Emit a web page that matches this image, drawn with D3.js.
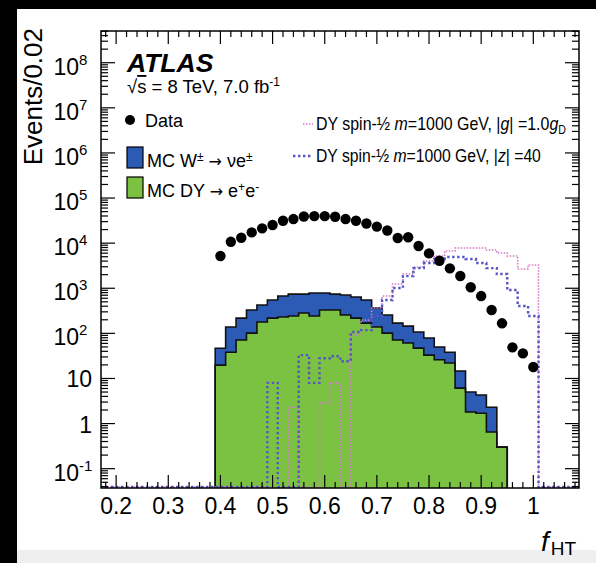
<!DOCTYPE html>
<html><head><meta charset="utf-8">
<script src="https://cdn.jsdelivr.net/npm/d3@7"></script>
<style>body{margin:0;background:#fff}svg{display:block}text{font-family:"Liberation Sans",Arial,Helvetica,sans-serif}</style>
</head><body><svg id="c" width="596" height="563"></svg>
<script>
// ---------------- data ----------------
const dataX = [0.40,0.42,0.44,0.46,0.48,0.50,0.52,0.54,0.56,0.58,0.60,0.62,0.64,0.66,0.68,0.70,0.72,0.74,0.76,0.78,0.80,0.82,0.84,0.86,0.88,0.90,0.92,0.94,0.96,0.98,1.00];
const dataY = [5180,10700,13200,17300,21300,25200,31400,34200,38900,39800,39800,38500,34200,31400,27200,23300,19100,13000,13500,8630,5940,4070,2760,1870,1050,671,329,167,49,36,18];

const mcBinLow = [0.39,0.41,0.43,0.45,0.47,0.49,0.51,0.53,0.55,0.57,0.59,0.61,0.63,0.65,0.67,0.69,0.71,0.73,0.75,0.77,0.79,0.81,0.83,0.85,0.87,0.89,0.91,0.93];
const mcDY = [19.8,38,71,101,178,218,230,242,282,242,329,329,255,218,169,138,101,71,61,47,33,26,22,6.1,1.8,1.7,0.65,0.30];
const mcW  = [27,100,147,228,247,329,441,501,461,541,454,414,453,420,378,226,154,98,84,60,46,24,16,8.5,3.2,2.6,1.65,0];

const sigBinLow = [0.39,0.41,0.43,0.45,0.47,0.49,0.51,0.53,0.55,0.57,0.59,0.61,0.63,0.65,0.67,0.69,0.71,0.73,0.75,0.77,0.79,0.81,0.83,0.85,0.87,0.89,0.91,0.93,0.95,0.97,0.99];
const sigG = [0,0,0,0,0,0,0,2.3,0,0,2.85,7.9,0,92,197,364,671,1240,2070,2950,4010,5180,6680,7790,7790,7790,7030,6030,5180,2670,3270];
const sigZ = [0,0,0,0,0,8,0,0,33,8,28,31,24,107,118,242,547,1010,1860,2800,3620,4440,4920,4920,4440,3620,2800,2070,912,403,242];
const binWidth = 0.02;

const xTickValues = [0.2,0.3,0.4,0.5,0.6,0.7,0.8,0.9,1.0];
const xTickLabels = ["0.2","0.3","0.4","0.5","0.6","0.7","0.8","0.9","1"];
const yTickValues = [0.1,1,10,1e2,1e3,1e4,1e5,1e6,1e7,1e8];
const yTickBase = ["10","1","10","10","10","10","10","10","10","10"];
const yTickExp  = ["-1","","","2","3","4","5","6","7","8"];

// ---------------- layout ----------------
const svg = d3.select("#c");
const L=101,R=579,T=31,B=488;
const x = d3.scaleLinear().domain([0.171,1.0876]).range([L,R]);
const y = d3.scaleLog().domain([0.0373,5.05e8]).range([B,T]);
const yv = v => v>0 ? Math.min(B, y(v)) : B+2;

const GREEN="#7cc242", BLUE="#2c5bb5", PINK="#d27ac8", PURP="#5556c4";

svg.append("rect").attr("width",596).attr("height",563).attr("fill","#fff");
svg.append("rect").attr("x",0).attr("y",550).attr("width",596).attr("height",13).attr("fill","#efefef");
svg.append("rect").attr("x",0).attr("y",0).attr("width",17).attr("height",563).attr("fill","#000");
svg.append("rect").attr("x",0).attr("y",0).attr("width",596).attr("height",9).attr("fill","#000");

svg.append("clipPath").attr("id","pc").append("rect").attr("x",L).attr("y",T).attr("width",R-L).attr("height",B-T);
const g = svg.append("g").attr("clip-path","url(#pc)");

function stepPts(lows, vals){
  const pts=[[x(lows[0]),B+2]];
  lows.forEach((lo,i)=>{ const yy=yv(vals[i]); pts.push([x(lo),yy]); pts.push([x(lo+binWidth),yy]); });
  pts.push([x(lows[lows.length-1]+binWidth),B+2]);
  return pts;
}
const line = d3.line();
const total = mcDY.map((d,i)=>d+mcW[i]);
const totPts = stepPts(mcBinLow,total), dyPts = stepPts(mcBinLow,mcDY);
g.append("path").attr("d",line(totPts)+"Z").attr("fill",BLUE);
g.append("path").attr("d",line(dyPts)+"Z").attr("fill",GREEN);
g.append("path").attr("d",line(dyPts)).attr("fill","none").attr("stroke","#111").attr("stroke-width",1.6);
g.append("path").attr("d",line(totPts)).attr("fill","none").attr("stroke","#111").attr("stroke-width",1.6);

// signal histograms
g.append("path").attr("d",line([[L,B-1],...stepPts(sigBinLow,sigG).map(p=>[p[0],Math.min(p[1],B-1)]),[R,B-1]]))
  .attr("fill","none").attr("stroke",PINK).attr("stroke-width",1.6).attr("stroke-dasharray","1.5,1.5");
g.append("path").attr("d",line([[L,B-1],...stepPts(sigBinLow,sigZ).map(p=>[p[0],Math.min(p[1],B-1)]),[R,B-1]]))
  .attr("fill","none").attr("stroke",PURP).attr("stroke-width",2.4).attr("stroke-dasharray","2.4,2.6");

// data points
g.selectAll("circle.d").data(dataX).enter().append("circle")
  .attr("cx",d=>x(d)).attr("cy",(d,i)=>y(dataY[i])).attr("r",5.2).attr("fill","#000");

// frame and ticks
const ax = svg.append("g").attr("stroke","#000").attr("stroke-width",1.2);
ax.append("rect").attr("x",L).attr("y",T).attr("width",R-L).attr("height",B-T).attr("fill","none").attr("stroke-width",1.5);
const xMinor = d3.range(18,109,2).map(v=>v/100);
xMinor.forEach(v=>{
  const major = Math.abs(v*10-Math.round(v*10))<1e-6;
  const len = major?13:6, px=x(v);
  if(px<L||px>R) return;
  ax.append("line").attr("x1",px).attr("x2",px).attr("y1",B).attr("y2",B-len);
  ax.append("line").attr("x1",px).attr("x2",px).attr("y1",T).attr("y2",T+len);
});
for(let d=-2; d<=8; d++){
  for(let m=1;m<=9;m++){
    const v=m*Math.pow(10,d);
    if(v<y.domain()[0]||v>y.domain()[1]) continue;
    const py=y(v), len = m===1?14:7;
    ax.append("line").attr("x1",L).attr("x2",L+len).attr("y1",py).attr("y2",py);
    ax.append("line").attr("x1",R).attr("x2",R-len).attr("y1",py).attr("y2",py);
  }
}

// tick labels
xTickValues.forEach((v,i)=>{
  svg.append("text").attr("x",x(v)).attr("y",514).attr("text-anchor","middle").attr("font-size",23).text(xTickLabels[i]);
});
yTickValues.forEach((v,i)=>{
  const py=y(v);
  if(yTickExp[i]===""){
    svg.append("text").attr("x",92).attr("y",py+9).attr("text-anchor","end").attr("font-size",23).text(yTickBase[i]);
  } else {
    svg.append("text").attr("x",79).attr("y",py+12).attr("text-anchor","end").attr("font-size",23).text(yTickBase[i]);
    svg.append("text").attr("x",79).attr("y",py+2).attr("font-size",15).text(yTickExp[i]);
  }
});

// axis titles
svg.append("text").attr("transform","translate(42,28) rotate(-90)").attr("text-anchor","end").attr("font-size",26).text("Events/0.02");
const xt = svg.append("text").attr("x",541).attr("y",551).attr("font-size",28);
xt.append("tspan").attr("font-style","italic").text("f");
xt.append("tspan").attr("font-size",19).attr("dy",4).attr("dx",2).text("HT");

// legend
svg.append("text").attr("x",127).attr("y",72).attr("font-size",26.5).attr("font-weight","bold").attr("font-style","italic").text("ATLAS");
const s1 = svg.append("text").attr("x",127).attr("y",93).attr("font-size",18.5);
s1.append("tspan").text("√");
s1.append("tspan").attr("text-decoration","overline").text("s");
s1.append("tspan").text(" = 8 TeV, 7.0 fb");
s1.append("tspan").attr("dy",-7).attr("font-size",12).text("-1");

svg.append("circle").attr("cx",130).attr("cy",120).attr("r",5).attr("fill","#000");
svg.append("text").attr("x",145).attr("y",127).attr("font-size",18).text("Data");

svg.append("rect").attr("x",127).attr("y",147).attr("width",16).attr("height",21).attr("fill",BLUE).attr("stroke","#000").attr("stroke-width",1.2);
const t2 = svg.append("text").attr("x",147).attr("y",167).attr("font-size",18);
t2.append("tspan").text("MC W");
t2.append("tspan").attr("dy",-6).attr("font-size",12).text("±");
t2.append("tspan").attr("dy",6).text(" ");
t2.append("tspan").attr("font-family","DejaVu Sans").attr("font-size",16).text("→");
t2.append("tspan").text(" νe");
t2.append("tspan").attr("dy",-6).attr("font-size",12).text("±");

svg.append("rect").attr("x",127).attr("y",177).attr("width",16).attr("height",21).attr("fill",GREEN).attr("stroke","#000").attr("stroke-width",1.2);
const t3 = svg.append("text").attr("x",147).attr("y",197).attr("font-size",18);
t3.append("tspan").text("MC DY ");
t3.append("tspan").attr("font-family","DejaVu Sans").attr("font-size",16).text("→");
t3.append("tspan").text(" e");
t3.append("tspan").attr("dy",-6).attr("font-size",12).text("+");
t3.append("tspan").attr("dy",6).text("e");
t3.append("tspan").attr("dy",-6).attr("font-size",12).text("-");

function fitText(sel, target){
  const w = sel.node().getComputedTextLength();
  if (w > 0) sel.attr("transform", `translate(${+sel.attr("x")},0) scale(${target/w},1) translate(${-sel.attr("x")},0)`);
}
svg.append("line").attr("x1",303).attr("x2",313).attr("y1",124).attr("y2",124).attr("stroke",PINK).attr("stroke-width",1.6).attr("stroke-dasharray","1.5,1.5");
const t4 = svg.append("text").attr("x",316).attr("y",130).attr("font-size",18);
t4.append("tspan").text("DY spin-½ ");
t4.append("tspan").attr("font-style","italic").text("m");
t4.append("tspan").text("=1000 GeV, |");
t4.append("tspan").attr("font-style","italic").text("g");
t4.append("tspan").text("| =1.0");
t4.append("tspan").attr("font-style","italic").text("g");
t4.append("tspan").attr("dy",4).attr("font-size",12).text("D");
fitText(t4, 250);

svg.append("line").attr("x1",293).attr("x2",313).attr("y1",156).attr("y2",156).attr("stroke",PURP).attr("stroke-width",2.4).attr("stroke-dasharray","2.4,2.6");
const t5 = svg.append("text").attr("x",316).attr("y",162).attr("font-size",18);
t5.append("tspan").text("DY spin-½ ");
t5.append("tspan").attr("font-style","italic").text("m");
t5.append("tspan").text("=1000 GeV, |");
t5.append("tspan").attr("font-style","italic").text("z");
t5.append("tspan").text("| =40");
fitText(t5, 225);
</script></body></html>
